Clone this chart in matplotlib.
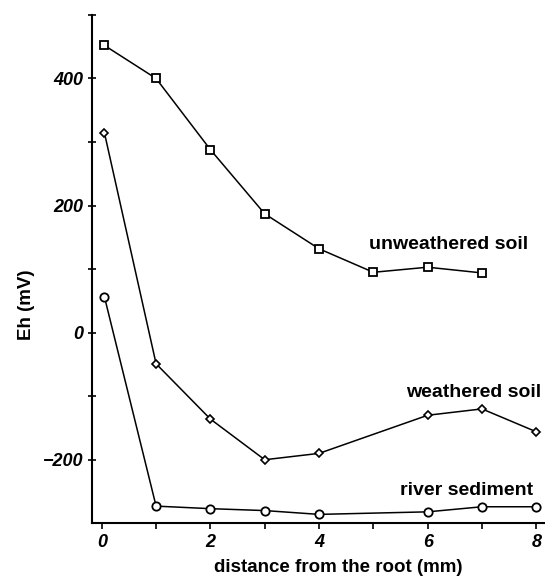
import matplotlib
matplotlib.use('Agg')
import matplotlib.pyplot as plt

plt.rcParams['font.family'] = ['Liberation Sans', 'DejaVu Sans']

# distance from the root (mm) and Eh (mV) for each soil
x_unweathered = [0.05, 1, 2, 3, 4, 5, 6, 7]
eh_unweathered = [452, 400, 288, 187, 132, 95, 103, 94]

x_weathered = [0.05, 1, 2, 3, 4, 6, 7, 8]
eh_weathered = [314, -49, -136, -200, -190, -130, -120, -156]

x_river = [0.05, 1, 2, 3, 4, 6, 7, 8]
eh_river = [56, -273, -277, -280, -286, -282, -274, -274]

fig = plt.figure(figsize=(5.45, 5.77), dpi=100)
ax = fig.add_axes([0.1688, 0.0931, 0.8312, 0.881])

ax.plot(x_unweathered, eh_unweathered, color='black', lw=1.1, marker='s', ms=6,
        mfc='white', mec='black', mew=1.3)
ax.plot(x_weathered, eh_weathered, color='black', lw=1.1, marker='D', ms=4,
        mfc='white', mec='black', mew=1.2)
ax.plot(x_river, eh_river, color='black', lw=1.1, marker='o', ms=6,
        mfc='white', mec='black', mew=1.3)

# curve labels
ax.text(4.92, 139, 'unweathered soil', fontsize=14, fontweight='bold', va='center')
ax.text(5.6, -94, 'weathered soil', fontsize=14, fontweight='bold', va='center')
ax.text(5.49, -248, 'river sediment', fontsize=14, fontweight='bold', va='center')

ax.set_xlim(-0.18, 8.16)
ax.set_ylim(-300, 500)

ax.set_xticks([0, 2, 4, 6, 8])
ax.set_xticks([1, 3, 5, 7], minor=True)
ax.set_yticks([-200, 0, 200, 400])
ax.set_yticks([-100, 100, 300, 500], minor=True)

for lab in ax.get_xticklabels() + ax.get_yticklabels():
    lab.set_fontstyle('italic')
    lab.set_fontweight('bold')
    lab.set_fontsize(13)

ax.tick_params(axis='x', which='both', direction='out', length=4, width=1.2, pad=4)
ax.tick_params(axis='y', which='both', direction='inout', length=6, width=1.2, pad=3)

ax.spines['top'].set_visible(False)
ax.spines['right'].set_visible(False)
ax.spines['left'].set_linewidth(1.5)
ax.spines['bottom'].set_linewidth(1.5)

ax.set_xlabel('distance from the root (mm)', fontsize=13.5, fontweight='bold')
ax.set_ylabel('Eh (mV)', fontsize=13.5, fontweight='bold')
ax.xaxis.set_label_coords(0.543, -0.070)
ax.yaxis.set_label_coords(-0.126, 0.43)

fig.savefig('out.png', dpi=100)
